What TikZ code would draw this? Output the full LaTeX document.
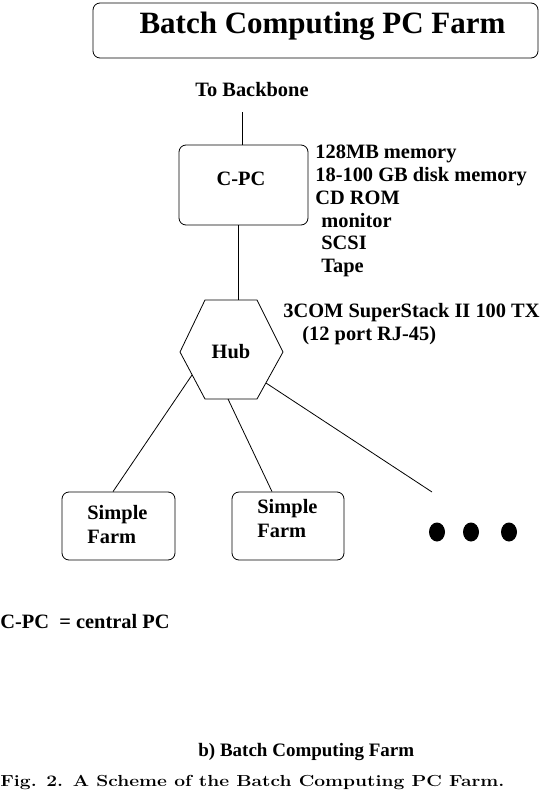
\documentclass[tikz,border=0pt]{standalone}
\usepackage{fontspec}
\newfontfamily\tms{Liberation Serif}
\begin{document}
\begin{tikzpicture}[x=1pt,y=-1pt,line width=0.8pt,
  lbl/.style={font=\tms\bfseries\fontsize{20.4}{23}\selectfont,inner sep=0pt,anchor=base west},
  box/.style={draw,rounded corners=7pt,inner sep=0pt},
  dot/.style={fill=black}]
\useasboundingbox (0,0) rectangle (541,808);
% title
\node[box,minimum width=445pt,minimum height=55pt] (title) at (315.5,30.5) {};
\node[font=\tms\bfseries\fontsize{31}{34}\selectfont,inner sep=0pt,anchor=base] (titletext) at (322.5,34) {Batch Computing PC Farm};
% backbone
\node[lbl] (backbone) at (195,96) {To Backbone};
\coordinate (bb) at (242,112);
% central PC
\node[box,minimum width=129pt,minimum height=80pt] (cpc) at (243.5,185) {};
\node[lbl,anchor=base] (cpctext) at (241,185) {C-PC};
\draw (bb) -- (bb |- cpc.north);
% specs
\node[lbl] (s1) at (315,158) {128MB memory};
\node[lbl] (s2) at (315,181) {18-100 GB disk memory};
\node[lbl] (s3) at (315,204) {CD ROM};
\node[lbl] (s4) at (321,227) {monitor};
\node[lbl] (s5) at (321,249) {SCSI};
\node[lbl] (s6) at (321,272) {Tape};
% hub
\coordinate (h1) at (180,352);
\coordinate (h2) at (205,300);
\coordinate (h3) at (257,300);
\coordinate (h4) at (283,352);
\coordinate (h5) at (257,399);
\coordinate (h6) at (205,399);
\draw (h1) -- (h2) -- (h3) -- (h4) -- (h5) -- (h6) -- cycle;
\node[lbl,anchor=base] (hub) at (231,358) {Hub};
\coordinate (hubtop) at (238,300);
\draw (hubtop |- cpc.south) -- (hubtop);
\node[lbl] (com) at (283,317) {3COM SuperStack II 100 TX};
\node[lbl] (port) at (302,340) {(12 port RJ-45)};
% farms
\node[box,minimum width=113pt,minimum height=68pt] (f1) at (118.5,526) {};
\node[lbl] (f1a) at (87,519) {Simple};
\node[lbl] (f1b) at (87,543) {Farm};
\node[box,minimum width=112pt,minimum height=68pt] (f2) at (288,526) {};
\node[lbl] (f2a) at (257,513) {Simple};
\node[lbl] (f2b) at (257,537) {Farm};
\coordinate (c1) at (192,375);
\coordinate (c2) at (228,399);
\coordinate (c3) at (266,383);
\coordinate (e3) at (432,492);
\draw (c1) -- ([xshift=-5.5pt]f1.north);
\draw (c2) -- ([xshift=-16pt]f2.north);
\draw (c3) -- (e3);
\fill[dot] (437,532) circle [x radius=8pt,y radius=9.5pt];
\fill[dot] (471,532) circle [x radius=8pt,y radius=9.5pt];
\fill[dot] (509,532) circle [x radius=8pt,y radius=9.5pt];
% legend and captions
\node[lbl] (legend) at (0,628) {C-PC\ \ = central PC};
\node[lbl,font=\tms\bfseries\fontsize{19}{22}\selectfont] (sub) at (198,756) {b) Batch Computing Farm};
\node[inner sep=0pt,anchor=base west,font=\bfseries\fontsize{16}{18}\selectfont] (cap) at (0,786) {\scalebox{1.2}[1]{Fig. 2. A Scheme of the Batch Computing PC Farm.}};
\end{tikzpicture}
\end{document}
